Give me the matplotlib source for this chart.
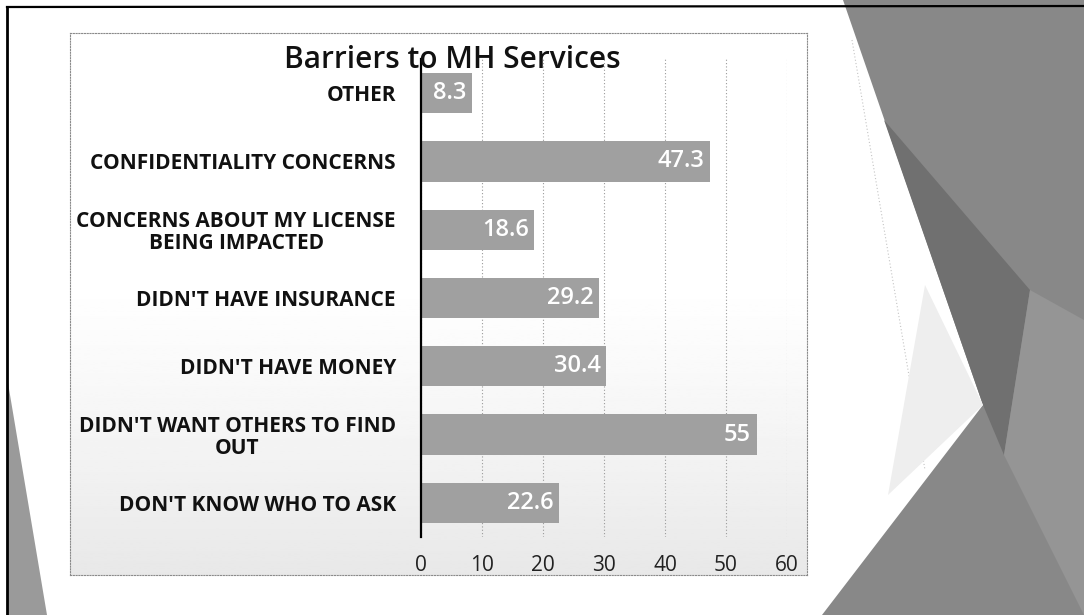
import numpy as np
import matplotlib
matplotlib.use("Agg")
import matplotlib.pyplot as plt
from matplotlib.patches import Polygon

# Survey results: share of respondents citing each barrier (%)
categories = [
    "DON'T KNOW WHO TO ASK",
    "DIDN'T WANT OTHERS TO FIND\nOUT",
    "DIDN'T HAVE MONEY",
    "DIDN'T HAVE INSURANCE",
    "CONCERNS ABOUT MY LICENSE\nBEING IMPACTED",
    "CONFIDENTIALITY CONCERNS",
    "OTHER",
]
values = [22.6, 55, 30.4, 29.2, 18.6, 47.3, 8.3]
value_labels = ["22.6", "55", "30.4", "29.2", "18.6", "47.3", "8.3"]
x_ticks = [0, 10, 20, 30, 40, 50, 60]
title = "Barriers to MH Services"

W, H = 1084, 615
plt.rcParams["font.family"] = ["Open Sans", "DejaVu Sans"]

fig = plt.figure(figsize=(W / 100, H / 100), dpi=100)
fig.patch.set_facecolor("white")


def px(x, y):
    """Pixel position (from top-left) to figure fraction."""
    return (x / W, 1 - y / H)


def poly(points, **kw):
    fig.patches.append(Polygon([px(*p) for p in points], closed=True,
                               transform=fig.transFigure, **kw))


# Slide decoration: faceted grey shapes on the right edge
poly([(843, 0), (W, 0), (W, H), (822, H), (983, 405)],
     facecolor="#888888", edgecolor="none", zorder=0)
poly([(884, 120), (1030, 290), (1004, 455), (983, 405)],
     facecolor="#707070", edgecolor="none", zorder=0)
poly([(1030, 290), (W, 320), (W, H), (1004, 455)],
     facecolor="#959595", edgecolor="none", zorder=0)
poly([(925, 285), (983, 405), (888, 495)],
     facecolor="#eeeeee", edgecolor="none", zorder=0)
fig.lines.append(plt.Line2D([852 / W, 925 / W], [1 - 40 / H, 1 - 470 / H],
                            transform=fig.transFigure, color="#c4c4c4",
                            lw=0.8, ls=(0, (1, 2)), zorder=0))

# Left-edge sliver and slide frame
poly([(7, 377), (7, H), (47, H)], facecolor="#9a9a9a", edgecolor="none", zorder=0)
fig.lines.append(plt.Line2D([7 / W, 7 / W], [1 - 7 / H, 0],
                            transform=fig.transFigure, color="black", lw=2, zorder=1))
fig.lines.append(plt.Line2D([7 / W, 1], [1 - 7 / H, 1 - 6 / H],
                            transform=fig.transFigure, color="black", lw=1.6, zorder=1))

# Chart frame with faint shading towards the bottom
bg = fig.add_axes([70 / W, 1 - 575 / H, (807 - 70) / W, (575 - 33) / H], zorder=0)
grad = np.linspace(0, 1, 256)[:, None]
grad = np.clip((grad - 0.45) / 0.55, 0, 1) ** 1.2
bg.imshow(1 - 0.09 * grad, cmap="gray", vmin=0, vmax=1, aspect="auto",
          extent=[0, 1, 0, 1], origin="upper")
bg.set_xlim(0, 1)
bg.set_ylim(0, 1)
bg.set_xticks([])
bg.set_yticks([])
for s in bg.spines.values():
    s.set_linestyle((0, (1, 1.5)))
    s.set_linewidth(0.8)
    s.set_edgecolor("#8a8a8a")

# Bar chart
ax = fig.add_axes([421 / W, 1 - 537 / H, (787 - 421) / W, (537 - 59) / H], zorder=2)
ax.patch.set_alpha(0)
ypos = np.arange(len(categories))
bars = ax.barh(ypos, values, height=0.59, color="#a0a0a0", zorder=3)
ax.set_xlim(0, 60)
ax.set_ylim(-0.5, len(categories) - 0.5)
ax.set_xticks(x_ticks)
ax.set_xticklabels([str(t) for t in x_ticks], fontsize=15, color="#222222")
ax.set_yticks(ypos)
ax.set_yticklabels(categories, fontsize=15, fontweight="bold", color="#111111",
                   linespacing=1.05)
for lbl in ax.get_yticklabels():
    lbl.set_multialignment("center")
ax.tick_params(axis="y", length=0, pad=18)
ax.tick_params(axis="x", length=0, pad=13)
ax.grid(axis="x", color="#9a9a9a", lw=0.8, ls=(0, (1, 2)), zorder=1)
for side in ("top", "right", "bottom"):
    ax.spines[side].set_visible(False)
ax.spines["left"].set_color("black")
ax.spines["left"].set_linewidth(1.6)
ax.spines["left"].set_zorder(4)

for bar, v, lab in zip(bars, values, value_labels):
    ax.annotate(lab, xy=(v, bar.get_y() + bar.get_height() / 2),
                xytext=(-4, 0), textcoords="offset points",
                ha="right", va="center", fontsize=17, fontweight="semibold",
                color="white", zorder=5)

fig.text(452 / W, 1 - 60 / H, title, ha="center", va="center",
         fontsize=21.5, fontweight="semibold", color="#111111", zorder=6)

fig.savefig("out.png", dpi=100, facecolor="white")
